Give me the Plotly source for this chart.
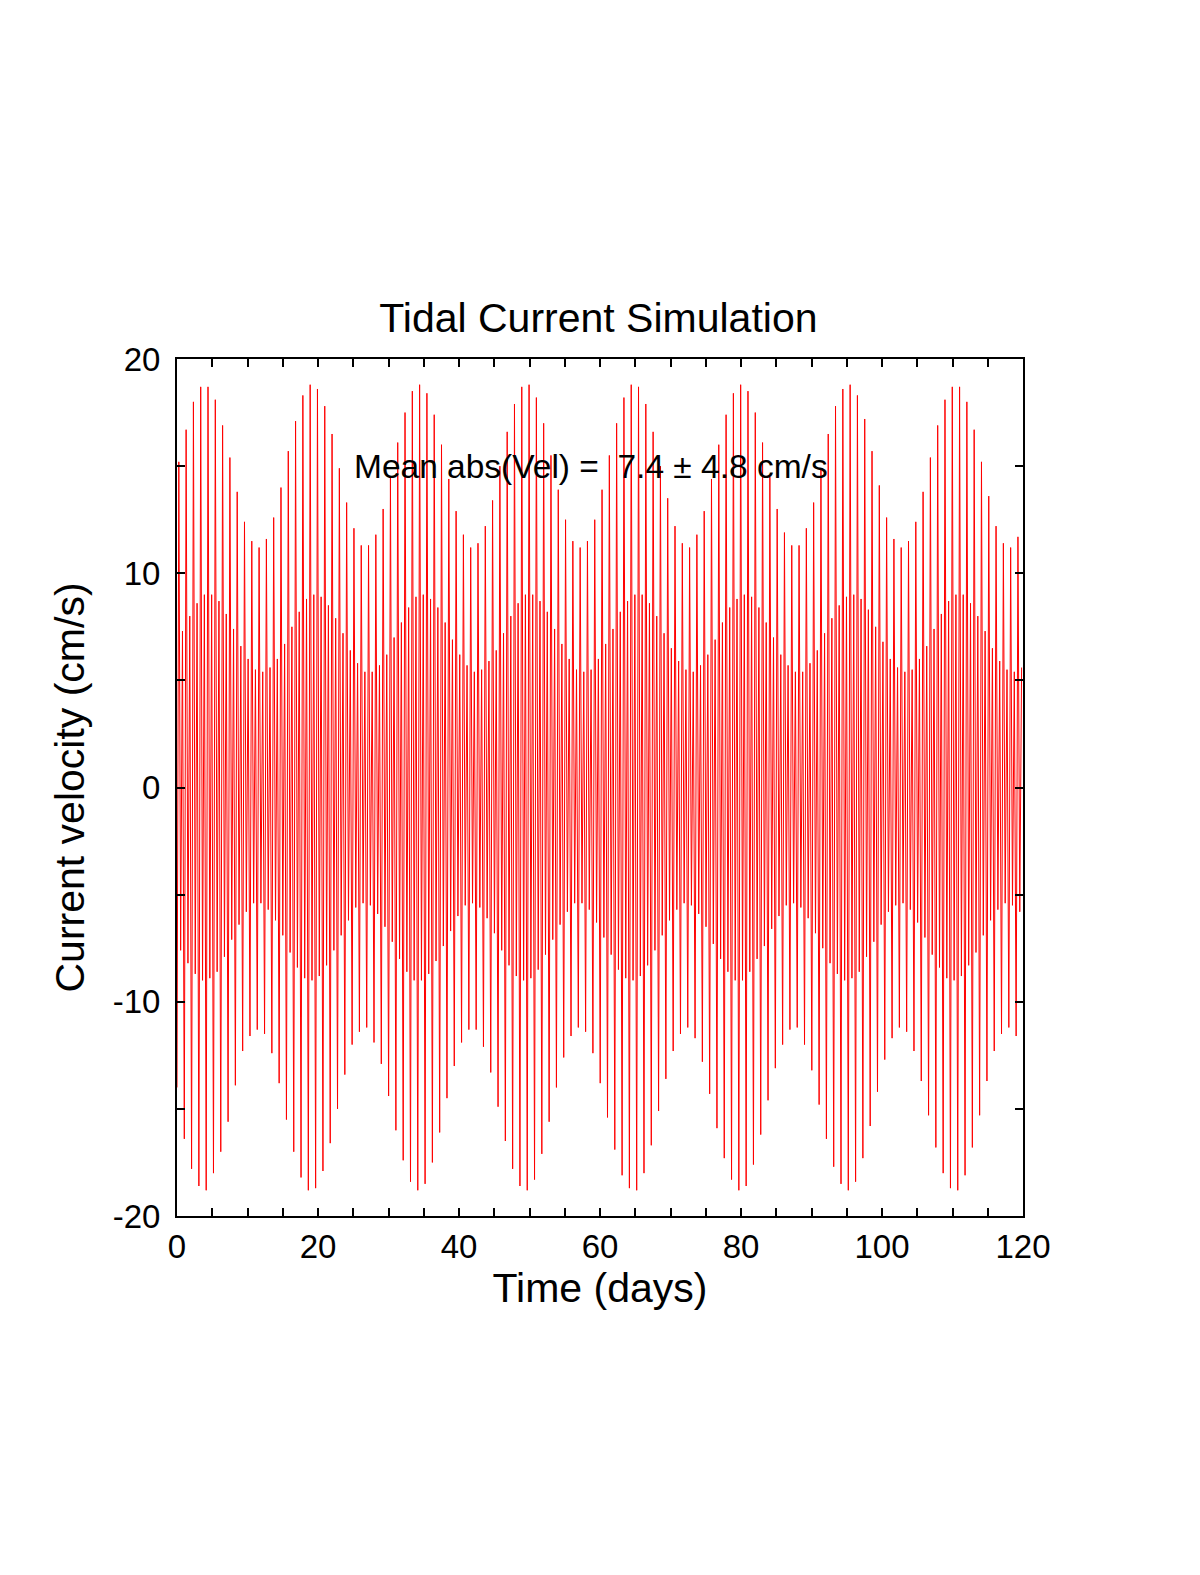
import plotly.graph_objects as go

# lunar day length in days; four current extremes per lunar day
lunar_day = 24.84 / 24.0
t_start = 0.0

# peak speeds, one value per lunar day (cm/s)
flood_big = [15.2, 16.7, 18.0, 18.7, 18.7, 18.1, 16.9, 15.4, 13.8, 12.4, 11.5, 11.2, 11.6, 12.6, 14.0, 15.7,
             17.1, 18.3, 18.8, 18.6, 17.8, 16.5, 14.9, 13.3, 12.1, 11.3, 11.3, 11.8, 13.0, 14.5, 16.1, 17.5,
             18.5, 18.8, 18.4, 17.4, 16.0, 14.4, 12.9, 11.8, 11.2, 11.4, 12.2, 13.4, 15.0, 16.6, 17.9, 18.7,
             18.8, 18.2, 17.0, 15.5, 13.9, 12.5, 11.5, 11.2, 11.5, 12.5, 13.9, 15.5, 17.0, 18.2, 18.8, 18.7,
             17.9, 16.6, 15.0, 13.5, 12.2, 11.4, 11.2, 11.8, 12.9, 14.4, 16.0, 17.4, 18.4, 18.8, 18.5, 17.5,
             16.1, 14.5, 13.0, 11.9, 11.3, 11.3, 12.1, 13.3, 14.9, 16.5, 17.8, 18.6, 18.8, 18.3, 17.2, 15.7,
             14.1, 12.6, 11.6, 11.2, 11.5, 12.4, 13.8, 15.4, 16.9, 18.1, 18.7, 18.7, 18.0, 16.7, 15.2, 13.6,
             12.2, 11.4, 11.2, 11.7]
ebb_big = [-14.0, -16.4, -17.8, -18.6, -18.8, -18.0, -17.0, -15.6, -13.9, -12.3, -11.6, -11.3, -11.5, -12.4, -13.8, -15.5,
           -17.0, -18.2, -18.8, -18.7, -17.9, -16.6, -15.0, -13.4, -12.0, -11.4, -11.2, -11.9, -12.9, -14.4, -16.0, -17.4,
           -18.4, -18.8, -18.5, -17.5, -16.1, -14.5, -13.0, -11.9, -11.3, -11.3, -12.1, -13.3, -14.9, -16.5, -17.8, -18.6,
           -18.8, -18.3, -17.1, -15.6, -14.0, -12.6, -11.6, -11.2, -11.4, -12.4, -13.8, -15.4, -16.9, -18.1, -18.7, -18.8,
           -18.0, -16.7, -15.1, -13.6, -12.3, -11.5, -11.2, -11.7, -12.8, -14.3, -15.9, -17.3, -18.3, -18.8, -18.6, -17.6,
           -16.2, -14.6, -13.1, -12.0, -11.3, -11.2, -12.0, -13.2, -14.8, -16.4, -17.7, -18.5, -18.8, -18.4, -17.3, -15.8,
           -14.2, -12.7, -11.7, -11.2, -11.4, -12.3, -13.7, -15.3, -16.8, -18.0, -18.7, -18.8, -18.1, -16.8, -15.3, -13.7,
           -12.3, -11.5, -11.2, -11.6]
flood_small = [7.3, 8.0, 8.6, 9.0, 9.0, 8.7, 8.1, 7.4, 6.6, 6.0, 5.5, 5.4, 5.6, 6.0, 6.7, 7.5,
               8.2, 8.8, 9.0, 8.9, 8.5, 7.9, 7.2, 6.4, 5.8, 5.4, 5.4, 5.7, 6.2, 7.0, 7.7, 8.4,
               8.9, 9.0, 8.8, 8.4, 7.7, 6.9, 6.2, 5.7, 5.4, 5.5, 5.9, 6.4, 7.2, 8.0, 8.6, 9.0,
               9.0, 8.7, 8.2, 7.4, 6.7, 6.0, 5.5, 5.4, 5.5, 6.0, 6.7, 7.4, 8.2, 8.7, 9.0, 9.0,
               8.6, 8.0, 7.2, 6.5, 5.9, 5.5, 5.4, 5.7, 6.2, 6.9, 7.7, 8.4, 8.8, 9.0, 8.9, 8.4,
               7.7, 7.0, 6.2, 5.7, 5.4, 5.4, 5.8, 6.4, 7.2, 7.9, 8.5, 8.9, 9.0, 8.8, 8.3, 7.5,
               6.8, 6.0, 5.6, 5.4, 5.5, 6.0, 6.6, 7.4, 8.1, 8.7, 9.0, 9.0, 8.6, 8.0, 7.3, 6.5,
               5.9, 5.5, 5.4, 5.6]
ebb_small = [-7.6, -8.2, -8.7, -9.0, -8.9, -8.6, -7.9, -7.1, -6.4, -5.8, -5.4, -5.4, -5.7, -6.2, -6.9, -7.7,
             -8.4, -8.9, -9.0, -8.8, -8.3, -7.6, -6.9, -6.2, -5.6, -5.4, -5.5, -5.9, -6.5, -7.2, -8.0, -8.6,
             -9.0, -9.0, -8.7, -8.1, -7.4, -6.7, -6.0, -5.5, -5.4, -5.6, -6.1, -6.8, -7.6, -8.3, -8.8, -9.0,
             -8.9, -8.5, -7.8, -7.1, -6.4, -5.8, -5.4, -5.4, -5.7, -6.3, -7.0, -7.8, -8.5, -8.9, -9.0, -8.8,
             -8.3, -7.6, -6.9, -6.2, -5.7, -5.4, -5.5, -5.9, -6.5, -7.3, -8.0, -8.6, -9.0, -9.0, -8.6, -8.0,
             -7.4, -6.6, -6.0, -5.5, -5.4, -5.6, -6.1, -6.8, -7.5, -8.2, -8.7, -9.0, -8.9, -8.6, -7.9, -7.2,
             -6.4, -5.8, -5.5, -5.4, -5.7, -6.3, -7.0, -7.8, -8.4, -8.9, -9.0, -8.8, -8.3, -7.7, -6.9, -6.2,
             -5.7, -5.4, -5.5, -5.8]

x_ticks = [0, 20, 40, 60, 80, 100, 120]
y_ticks = [-20, -10, 0, 10, 20]
y_labels = ["-20", "-10", "0", "10", "20"]
note = "Mean abs(Vel) =\u00a0\u00a07.4 \u00b1 4.8 cm/s"

# order inside each lunar day: big ebb, big flood, small ebb, small flood
time, vel = [], []
for k in range(len(flood_big)):
    seq = [ebb_big[k], flood_big[k], ebb_small[k], flood_small[k]]
    for j, v in enumerate(seq):
        time.append(t_start + lunar_day * (k + j / 4.0))
        vel.append(v)

font = "Arial, Liberation Sans, sans-serif"

fig = go.Figure(go.Scatter(x=time, y=vel, mode="lines",
                           line=dict(color="#ff0000", width=1)))

axis_style = dict(showgrid=False, zeroline=False, showline=True, linecolor="black",
                  linewidth=2, mirror="ticks", ticks="inside", ticklen=8,
                  tickwidth=2, tickcolor="black", automargin=False,
                  tickfont=dict(family=font, size=33, color="black"))
minor_ticks = dict(dtick=5, ticks="inside", ticklen=8, tickwidth=2, tickcolor="black")

fig.update_xaxes(range=[0, 120], tickvals=x_ticks, minor=minor_ticks,
                 title=dict(text="Time (days)", font=dict(family=font, size=41, color="black"),
                            standoff=1),
                 **axis_style)
fig.update_yaxes(range=[-20, 20], tickvals=y_ticks, ticktext=y_labels, minor=minor_ticks,
                 ticklabelstandoff=8,
                 title=dict(text="Current velocity (cm/s)", font=dict(family=font, size=41, color="black"),
                            standoff=15),
                 **axis_style)

fig.add_annotation(x=24.8, y=15, xref="x", yref="y", text=note, showarrow=False,
                   xanchor="left", yanchor="middle",
                   font=dict(family=font, size=33.5, color="black"))

fig.update_layout(
    width=1200, height=1575,
    title=dict(text="Tidal Current Simulation", x=0.492, xanchor="center",
               y=1 - 310 / 1575, yanchor="middle",
               font=dict(family=font, size=41, color="black")),
    margin=dict(l=169, r=185, t=351, b=367),
    plot_bgcolor="white", paper_bgcolor="white",
    showlegend=False,
)

fig.write_html("out.html")
